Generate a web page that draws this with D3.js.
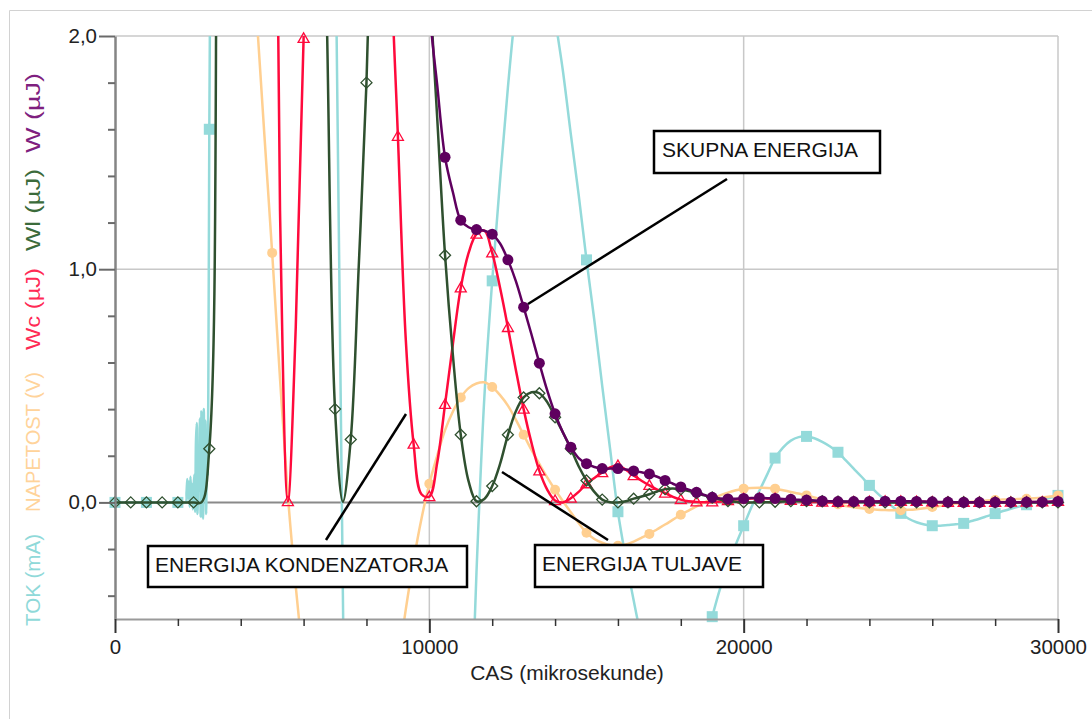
<!DOCTYPE html>
<html><head><meta charset="utf-8">
<script src="https://cdn.jsdelivr.net/npm/d3@7"></script>
<style>
html,body{margin:0;padding:0;background:#fff;}
svg{display:block;font-family:"Liberation Sans",Arial,Helvetica,sans-serif;}
</style></head>
<body><svg id="chart" width="1092" height="719"></svg>
<script>
// ---------------- DATA ----------------
const timeUs = [0,250,500,750,1000,1250,1500,1750,2000,2250,2500,2750,
3000,3250,3500,3750,4000,4250,4500,4750,5000,5250,5500,5750,6000,6250,6500,6750,
7000,7250,7500,7750,8000,8250,8500,8750,9000,9250,9500,9750,10000,10250,10500,10750,
11000,11250,11500,11750,12000,12250,12500,12750,13000,13250,13500,13750,14000,14250,14500,14750,
15000,15250,15500,15750,16000,16250,16500,16750,17000,17250,17500,17750,18000,18250,18500,18750,
19000,19250,19500,19750,20000,20250,20500,20750,21000,21250,21500,21750,22000,22250,22500,22750,
23000,23250,23500,23750,24000,24250,24500,24750,25000,25250,25500,25750,26000,26250,26500,26750,
27000,27250,27500,27750,28000,28250,28500,28750,29000,29250,29500,29750,30000];

// TOK (mA)
const tokBefore = [0,0,0,0,0,0,0,0,0,0];               // 0 .. 2250
const tokNoiseTime = [2275,2300,2325,2350,2375,2400,2425,2450,2475,2500,2525,2550,2575,2600,2625,
2650,2675,2700,2725,2750,2775,2800,2825,2850,2875,2900,2925,2950,2975];
const tokNoise = [0.04,0.10,0.02,0.09,-0.02,0.11,0.03,0.08,-0.03,0.06,0.12,-0.04,0.26,0.34,-0.05,
0.18,0.05,0.36,-0.06,0.39,0.10,-0.07,0.40,0.02,0.35,-0.05,0.28,0.12,0.70];
const tokAfter = [                                       // 3000 .. 30000
1.6,7.5,14.9,18.4, 21.0,22.5,23.1,22.8, 21.9,20.3,18.2,15.7, 13.0,10.2,7.4,4.9,
2.6,-0.4,-3.0,-4.4, -5.5,-6.5,-7.2,-7.6, -7.7,-7.5,-7.1,-6.5, -5.7,-4.9,-4.0,-3.0,
-2.1,-1.25,-0.30,0.45, 0.95,1.38,1.78,2.12, 2.35,2.48,2.48,2.36, 2.08,1.85,1.58,1.32,
1.04,0.78,0.50,0.23, -0.04,-0.24,-0.42,-0.58, -0.70,-0.79,-0.84,-0.855, -0.84,-0.80,-0.73,-0.62,
-0.49,-0.37,-0.27,-0.18, -0.10,-0.02,0.05,0.12, 0.19,0.235,0.265,0.28, 0.283,0.275,0.26,0.24,
0.215,0.18,0.145,0.11, 0.073,0.04,0.01,-0.02, -0.047,-0.07,-0.085,-0.095, -0.10,-0.10,-0.097,-0.094,
-0.09,-0.08,-0.07,-0.059, -0.048,-0.037,-0.027,-0.018, -0.01,0.0,0.01,0.02, 0.03];

// NAPETOST (V)
const napetostV = [
4.57,4.57,4.57,4.57, 4.57,4.57,4.57,4.57, 4.57,4.57,4.57,4.57,
4.55,4.36,4.06,3.65, 3.17,2.63,2.10,1.58, 1.07,0.53,0.03,-0.36, -0.70,-1.00,-1.24,-1.40,
-1.50,-1.54,-1.52,-1.46, -1.37,-1.25,-1.10,-0.92, -0.70,-0.46,-0.25,-0.07, 0.08,0.20,0.31,0.39,
0.45,0.49,0.51,0.515, 0.495,0.46,0.415,0.355, 0.29,0.225,0.165,0.107, 0.054,0.005,-0.042,-0.088,
-0.13,-0.157,-0.173,-0.183, -0.186,-0.18,-0.168,-0.152, -0.135,-0.115,-0.095,-0.074, -0.053,-0.035,-0.017,0.0,
0.016,0.03,0.042,0.052, 0.059,0.062,0.063,0.062, 0.059,0.052,0.045,0.038, 0.03,0.021,0.012,0.002,
-0.008,-0.015,-0.021,-0.025, -0.028,-0.031,-0.033,-0.034, -0.034,-0.032,-0.029,-0.025, -0.02,-0.015,-0.01,-0.005,
0.0,0.003,0.006,0.008, 0.01,0.012,0.013,0.015, 0.016,0.018,0.021,0.025, 0.03];

// Wc (µJ)
const wcUJ = [
94,94,94,94, 94,94,94,94, 94,94,94,94,
93,85.5,74,60, 45,31,19.8,11.2, 4.6,1.25,0.003,0.75, 1.99,4.5,6.9,8.8,
10.1,10.5,10.1,9.1, 7.6,6.0,4.3,2.45, 1.57,0.70,0.25,0.035, 0.025,0.17,0.42,0.68,
0.92,1.07,1.15,1.165, 1.07,0.92,0.75,0.57, 0.40,0.255,0.135,0.055, 0.008,0.0,0.018,0.045,
0.08,0.105,0.128,0.15, 0.158,0.14,0.115,0.093, 0.073,0.055,0.04,0.024, 0.012,0.005,0.002,0.001,
0.002,0.004,0.008,0.012, 0.015,0.017,0.018,0.017, 0.016,0.012,0.009,0.006, 0.004,0.002,0.001,0.0,
0.0,0.001,0.002,0.003, 0.0035,0.004,0.005,0.005, 0.005,0.0045,0.004,0.003, 0.002,0.001,0.0005,0.0,
0.0,0.0,0.0,0.0, 0.0005,0.0006,0.0008,0.001, 0.0012,0.0015,0.002,0.003, 0.004];

// Wl (µJ)
const wlUJ = [
0,0,0,0, 0,0,0,0, 0,0,0,0,
0.23,2.9,16.8,25.8, 33,38,40,40, 36,31,25,18.7, 12.9,7.9,4.0,2.0,
0.40,0.003,0.27,1.0, 1.8,3.0,4.0,4.4, 4.5,4.3,3.8,3.1, 2.25,1.65,1.06,0.63,
0.29,0.09,0.005,0.015, 0.07,0.165,0.29,0.39, 0.45,0.472,0.468,0.43, 0.365,0.30,0.23,0.155,
0.094,0.045,0.012,0.001, 0.0,0.005,0.016,0.025, 0.035,0.047,0.057,0.06, 0.056,0.049,0.04,0.03,
0.021,0.012,0.006,0.0025, 0.001,0.0,0.0002,0.001, 0.0027,0.0042,0.0053,0.006, 0.0061,0.0057,0.0051,0.0044,
0.0035,0.0025,0.0016,0.0009, 0.0004,0.0001,0.0,0.0, 0.0,0.0001,0.0003,0.0005, 0.0007,0.0007,0.0007,0.0007,
0.0006,0.0005,0.0004,0.0003, 0.0002,0.0001,0.0001,0.0, 0.0,0.0,0.0,0.0, 0.0];

// W (µJ)
const wUJ = [
94,94,94,94, 94,94,94,94, 94,94,94,94,
93,88,82,75, 68,61,55,49, 44,39,35,31, 27.5,24.5,21.5,19,
17,15,13.2,11.7, 10.3,9.1,8.0,7.0, 6.1,5.2,4.3,3.2, 2.13,1.79,1.48,1.33,
1.21,1.18,1.17,1.165, 1.15,1.11,1.04,0.95, 0.837,0.72,0.597,0.48, 0.38,0.30,0.237,0.19,
0.166,0.152,0.145,0.145, 0.145,0.141,0.135,0.129, 0.122,0.11,0.094,0.08, 0.066,0.054,0.043,0.032,
0.022,0.017,0.015,0.016, 0.017,0.019,0.019,0.018, 0.017,0.015,0.013,0.011, 0.01,0.008,0.006,0.0045,
0.0035,0.0035,0.0036,0.004, 0.004,0.0042,0.005,0.005, 0.005,0.0046,0.0043,0.0035, 0.0027,0.0017,0.0012,0.0007,
0.0006,0.0005,0.0004,0.0003, 0.0007,0.0007,0.0009,0.001, 0.0012,0.0015,0.002,0.003, 0.004];

const xMajorTicks = [0, 10000, 20000, 30000];
const xMinorTicks = [2000,4000,6000,8000,12000,14000,16000,18000,22000,24000,26000,28000];
const yMajorTicks = [0, 1, 2];
const yMinorTicks = [-0.4,-0.2,0.2,0.4,0.6,0.8,1.2,1.4,1.6,1.8];
const xTitle = "CAS (mikrosekunde)";
const yTitles = [
  {text:"TOK (mA)", color:"#8fd9d9", cy:580, len:92},
  {text:"NAPETOST (V)", color:"#ffd39a", cy:442, len:140},
  {text:"Wc (µJ)", color:"#ff2a55", cy:309, len:82},
  {text:"Wl (µJ)", color:"#3b6b3b", cy:210, len:82},
  {text:"W (µJ)", color:"#7f1f7f", cy:113, len:80}
];
const notes = [
  {text:"SKUPNA ENERGIJA", box:[654,131,880,173], tx:662, ty:157, line:[727,179,528,304]},
  {text:"ENERGIJA KONDENZATORJA", box:[148,546,467,587], tx:155, ty:572, line:[326,540,406,414]},
  {text:"ENERGIJA TULJAVE", box:[535,545,763,587], tx:542, ty:571, line:[502,472,608,540]}
];

// ---------------- CHART ----------------
const P = {left:115, right:1058, top:36, bottom:619};
const x = d3.scaleLinear().domain([0,30000]).range([P.left, P.right]);
const y = d3.scaleLinear().domain([-0.5, 2.0]).range([P.bottom, P.top]);
const svg = d3.select("#chart");

// outer frame (left + top edge)
svg.append("path").attr("d","M9.5,719V10.5H1092").attr("fill","none")
  .attr("stroke","#d2d2d2").attr("stroke-width",1);

// grid
const grid = svg.append("g");
[1.0, 2.0].forEach(v => grid.append("line")
  .attr("x1",P.left).attr("x2",P.right).attr("y1",y(v)).attr("y2",y(v))
  .attr("stroke","#c8c8c8").attr("stroke-width",1.5));
[10000, 20000, 30000].forEach(v => grid.append("line")
  .attr("x1",x(v)).attr("x2",x(v)).attr("y1",P.top).attr("y2",P.bottom)
  .attr("stroke","#c8c8c8").attr("stroke-width",1.5));
grid.append("line").attr("x1",P.left).attr("x2",P.right).attr("y1",y(0)).attr("y2",y(0))
  .attr("stroke","#8a8a8a").attr("stroke-width",2);

svg.append("defs").append("clipPath").attr("id","plotclip").append("rect")
  .attr("x",P.left).attr("y",P.top).attr("width",P.right-P.left).attr("height",P.bottom-P.top);

const tokTime = timeUs.filter(t => t <= 2250).concat(tokNoiseTime, timeUs.filter(t => t >= 3000));
const tokValues = tokBefore.concat(tokNoise, tokAfter);

const series = [
  {t:tokTime, v:tokValues, color:"#94dada", marker:"square", every:1000, width:2.5},
  {t:timeUs, v:napetostV, color:"#ffcf90", marker:"circle", every:1000, width:2.5},
  {t:timeUs, v:wcUJ, color:"#ff0a3c", marker:"triangle", every:500, width:2.5},
  {t:timeUs, v:wlUJ, color:"#2f502f", marker:"diamond", every:500, width:2.5},
  {t:timeUs, v:wUJ, color:"#5f005f", marker:"dot", every:500, width:2.5}
];

const line = d3.line().x(d => x(d[0])).y(d => y(d[1])).curve(d3.curveCatmullRom.alpha(0.5));
const shapes = {
  square:"M-5.5,-5.5h11v11h-11z",
  triangle:"M0,-5.5L5.5,4L-5.5,4Z",
  diamond:"M0,-5.5L5.5,0L0,5.5L-5.5,0Z"
};

series.forEach(s => {
  const pts = s.t.map((t,i) => [t, s.v[i]]);
  const g = svg.append("g");
  g.append("path").attr("clip-path","url(#plotclip)")
    .attr("d", line(pts)).attr("fill","none").attr("stroke", s.color)
    .attr("stroke-width", s.width).attr("stroke-linejoin","round");
  const mk = pts.filter(p => p[0] % s.every === 0 && p[1] >= -0.52 && p[1] <= 2.02);
  const mg = g.append("g");
  mk.forEach(p => {
    const cx = x(p[0]), cy = y(p[1]);
    if (s.marker === "circle" || s.marker === "dot") {
      mg.append("circle").attr("cx",cx).attr("cy",cy).attr("r", s.marker === "dot" ? 5.5 : 5)
        .attr("fill", s.color);
    } else if (s.marker === "square") {
      mg.append("path").attr("d", shapes.square).attr("transform",`translate(${cx},${cy})`)
        .attr("fill", s.color);
    } else {
      mg.append("path").attr("d", shapes[s.marker]).attr("transform",`translate(${cx},${cy})`)
        .attr("fill","none").attr("stroke", s.color).attr("stroke-width",1.3);
    }
  });
});

// axes
const fmt = d => d.toFixed(1).replace(".", ",");
const yAx = svg.append("g").attr("transform",`translate(${P.left},0)`)
  .call(d3.axisLeft(y).tickValues(yMajorTicks).tickSize(16).tickSizeOuter(0).tickPadding(2).tickFormat(fmt));
const yAxMinor = svg.append("g").attr("transform",`translate(${P.left},0)`)
  .call(d3.axisLeft(y).tickValues(yMinorTicks).tickSize(7).tickSizeOuter(0).tickFormat(""));
const xAx = svg.append("g").attr("transform",`translate(0,${P.bottom})`)
  .call(d3.axisBottom(x).tickValues(xMajorTicks).tickSize(14).tickSizeOuter(0).tickPadding(6).tickFormat(d3.format("d")));
const xAxMinor = svg.append("g").attr("transform",`translate(0,${P.bottom})`)
  .call(d3.axisBottom(x).tickValues(xMinorTicks).tickSize(7).tickSizeOuter(0).tickFormat(""));

[yAx, yAxMinor, xAx, xAxMinor].forEach(a => {
  a.attr("font-family",null).attr("font-size",null);
  a.selectAll("text").attr("font-size","20.5px").attr("fill","#222");
});
yAx.select(".domain").attr("stroke","#858585").attr("stroke-width",2.5);
yAxMinor.select(".domain").remove();
xAx.select(".domain").attr("stroke","#9a9a9a").attr("stroke-width",2);
xAxMinor.select(".domain").remove();
yAx.selectAll(".tick line").attr("stroke","#6a6a6a").attr("stroke-width",2);
yAxMinor.selectAll(".tick line").attr("stroke","#6a6a6a").attr("stroke-width",2);
xAx.selectAll(".tick line").attr("stroke","#333").attr("stroke-width",2);
xAxMinor.selectAll(".tick line").attr("stroke","#333").attr("stroke-width",1.5);

svg.append("text").attr("x",567).attr("y",680).attr("text-anchor","middle")
  .attr("font-size","21px").attr("fill","#222").text(xTitle);

yTitles.forEach(d => svg.append("text")
  .attr("transform",`translate(40,${d.cy}) rotate(-90)`).attr("text-anchor","middle")
  .attr("font-size","20px").attr("fill", d.color)
  .attr("textLength", d.len).attr("lengthAdjust","spacingAndGlyphs").text(d.text));

// annotations
notes.forEach(n => {
  svg.append("line").attr("x1",n.line[0]).attr("y1",n.line[1]).attr("x2",n.line[2]).attr("y2",n.line[3])
    .attr("stroke","#000").attr("stroke-width",2.5);
  svg.append("rect").attr("x",n.box[0]).attr("y",n.box[1])
    .attr("width",n.box[2]-n.box[0]).attr("height",n.box[3]-n.box[1])
    .attr("fill","#fff").attr("stroke","#000").attr("stroke-width",2.5);
  svg.append("text").attr("x",n.tx).attr("y",n.ty).attr("font-size","21px").attr("fill","#111").text(n.text);
});
</script></body></html>
